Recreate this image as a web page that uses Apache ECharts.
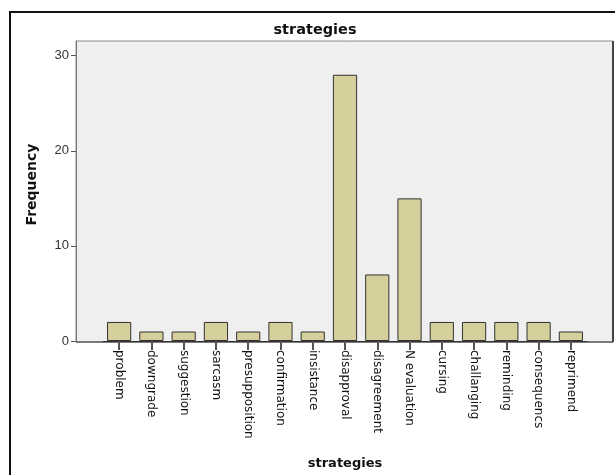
<!DOCTYPE html>
<html>
<head>
<meta charset="utf-8">
<script src="https://cdn.jsdelivr.net/npm/echarts@6/dist/echarts.min.js"></script>
<style>html,body{margin:0;padding:0;background:#fff}#c{width:615px;height:475px}</style>
</head>
<body>
<div id="c"></div>
<script>
const categories = ["problem","downgrade","suggestion","sarcasm","presupposition","confirmation","insistance","disapproval","disagreement","N evaluation","cursing","challanging","reminding","consequencs","reprimend"];
const frequency = [2,1,1,2,1,2,1,28,7,15,2,2,2,2,1];
const yTicks = [0,10,20,30];

const chart = echarts.init(document.getElementById('c'), null, {renderer:'canvas'});
chart.setOption({
  animation:false,
  backgroundColor:'#ffffff',
  title:{text:'strategies', left:310, top:18, textAlign:'center',
     textStyle:{fontFamily:'DejaVu Sans', fontSize:14.5, fontWeight:'bold', color:'#111'}},
  graphic:[
    {type:'rect', z:-10, shape:{x:76, y:41, width:537, height:301}, style:{fill:'#efefef', stroke:'#8a8a8a', lineWidth:1}},
    {type:'line', z:-5, shape:{x1:613, y1:41, x2:613, y2:342}, style:{stroke:'#444', lineWidth:2}},
    {type:'line', z:-5, shape:{x1:76, y1:342, x2:613, y2:342}, style:{stroke:'#333', lineWidth:1}},
    {type:'line', z:-5, shape:{x1:9, y1:12, x2:615, y2:12}, style:{stroke:'#111', lineWidth:2}},
    {type:'line', z:-5, shape:{x1:10, y1:11, x2:10, y2:475}, style:{stroke:'#111', lineWidth:2}}
  ],
  grid:{left:103, right:28, top:41, bottom:133, containLabel:false},
  xAxis:{
    type:'category', data:categories,
    name:'strategies', nameLocation:'middle', nameGap:116, nameMoveOverlap:false,
    nameTextStyle:{fontFamily:'DejaVu Sans', fontSize:13, fontWeight:'bold', color:'#111'},
    axisLine:{show:true, lineStyle:{color:'#333', width:1}},
    axisTick:{show:true, interval:0, alignWithLabel:true, length:9, lineStyle:{color:'#555', width:2}},
    axisLabel:{rotate:-90, interval:0, margin:9, fontFamily:'DejaVu Sans', fontSize:12, color:'#111'}
  },
  yAxis:{
    type:'value', min:0, max:31.55, interval:10, offset:27,
    name:'Frequency', nameLocation:'middle', nameGap:37, nameRotate:90, nameMoveOverlap:false,
    nameTextStyle:{fontFamily:'DejaVu Sans', fontSize:14, fontWeight:'bold', color:'#111', padding:[0,0,0,13]},
    axisLine:{show:true, lineStyle:{color:'#777'}},
    axisTick:{show:true, length:5, lineStyle:{color:'#555'}, customValues:yTicks},
    splitLine:{show:false},
    axisLabel:{margin:7, fontFamily:'Liberation Sans', fontSize:13, color:'#333', customValues:yTicks}
  },
  series:[{
    type:'bar', data:frequency, barWidth:'75%',
    itemStyle:{color:'#d4cf9b', borderColor:'#333', borderWidth:1}
  }]
});
</script>
</body>
</html>
